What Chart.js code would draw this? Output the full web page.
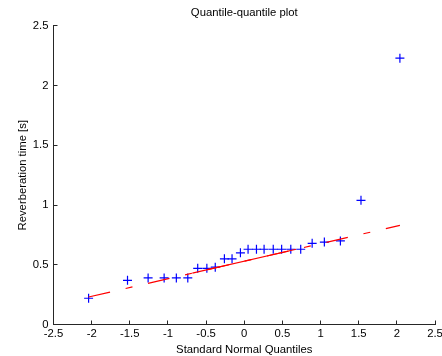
<!DOCTYPE html>
<html><head><meta charset="utf-8">
<script src="https://cdn.jsdelivr.net/npm/chart.js@4/dist/chart.umd.min.js"></script>
<style>html,body{margin:0;padding:0;background:#fff}</style>
</head><body>
<canvas id="c" width="442" height="356"></canvas>
<script>
// Standard normal quantiles (x) and sample values (y)
const quantiles = [-2.04,-1.53,-1.26,-1.05,-0.89,-0.74,-0.61,-0.49,-0.38,-0.26,-0.16,-0.05,0.05,0.16,0.26,0.38,0.49,0.61,0.74,0.89,1.05,1.26,1.53,2.04];
const reverbTimes = [0.22,0.37,0.39,0.39,0.39,0.39,0.47,0.47,0.48,0.55,0.55,0.60,0.63,0.63,0.63,0.63,0.63,0.63,0.63,0.68,0.69,0.70,1.04,2.23];
// Reference line: solid between quartiles, dash-dot extension to data range
const quartileLineX = [-0.68, 0.68];
const quartileLineY = [0.43, 0.63];
const extLineX = [-2.04, 2.04];
const extLineY = [0.23, 0.83];
// Tick values
const xTicks = [-2.5,-2,-1.5,-1,-0.5,0,0.5,1,1.5,2,2.5];
const yTicks = [0,0.5,1,1.5,2,2.5];

const FONT = "'Liberation Sans', Arial, sans-serif";
const FS = 11.3;

const inwardTicks = {
  id: 'inwardTicks',
  afterDraw(chart) {
    const {ctx, chartArea: {left, bottom}, scales: {x, y}} = chart;
    const al = p => Math.round(p - 0.5) + 0.5;
    ctx.save();
    ctx.strokeStyle = '#262626';
    ctx.lineWidth = 1;
    ctx.beginPath();
    x.ticks.forEach(t => { const px = al(x.getPixelForValue(t.value)); ctx.moveTo(px, al(bottom)); ctx.lineTo(px, al(bottom) - 4); });
    y.ticks.forEach(t => { const py = al(y.getPixelForValue(t.value)); ctx.moveTo(al(left), py); ctx.lineTo(al(left) + 4, py); });
    ctx.stroke();
    ctx.restore();
  }
};

new Chart(document.getElementById('c'), {
  type: 'scatter',
  data: {
    datasets: [
      {
        type: 'line',
        data: quartileLineX.map((v, i) => ({x: v, y: quartileLineY[i]})),
        borderColor: '#ff0000', borderWidth: 1.2, pointRadius: 0, fill: false, order: 0
      },
      {
        type: 'line',
        data: extLineX.map((v, i) => ({x: v, y: extLineY[i]})),
        borderColor: '#ff0000', borderWidth: 1.2, pointRadius: 0, fill: false,
        borderDash: [22, 16, 7, 16], order: 0
      },
      {
        type: 'scatter',
        data: quantiles.map((v, i) => ({x: v, y: reverbTimes[i]})),
        pointStyle: 'cross', pointRadius: 4.5, borderColor: '#0000ff', backgroundColor: '#0000ff',
        pointBorderWidth: 1.2, borderWidth: 1.2, order: 1
      }
    ]
  },
  options: {
    responsive: false,
    animation: false,
    layout: {padding: {left: 0, right: 7, top: 0, bottom: 0}},
    plugins: {
      legend: {display: false},
      tooltip: {enabled: false},
      title: {
        display: true, fullSize: false, text: 'Quantile-quantile plot', color: '#000',
        font: {family: FONT, size: FS, weight: 'normal'},
        padding: {top: 6, bottom: 6.4}
      }
    },
    scales: {
      x: {
        type: 'linear', min: -2.5, max: 2.5,
        afterBuildTicks: s => { s.ticks = xTicks.map(v => ({value: v})); },
        afterFit: s => { s.height = 31.5; s.paddingLeft = 0; s.paddingRight = 0; },
        grid: {display: false, drawTicks: false},
        border: {display: true, color: '#262626', width: 1},
        ticks: {color: '#000', padding: 3, font: {family: FONT, size: FS}, maxRotation: 0, autoSkip: false,
          callback: v => String(v)},
        title: {display: true, text: 'Standard Normal Quantiles', color: '#000',
          font: {family: FONT, size: FS, lineHeight: 1}, padding: {top: 0, bottom: 0}}
      },
      y: {
        type: 'linear', min: 0, max: 2.5,
        afterBuildTicks: s => { s.ticks = yTicks.map(v => ({value: v})); },
        afterFit: s => { s.width = 53.5; s.paddingTop = 0; s.paddingBottom = 0; },
        grid: {display: false, drawTicks: false},
        border: {display: true, color: '#262626', width: 1},
        ticks: {color: '#000', padding: 5, font: {family: FONT, size: FS}, autoSkip: false,
          callback: v => String(v)},
        title: {display: true, text: 'Reverberation time [s]', color: '#000',
          font: {family: FONT, size: FS}, padding: {top: 16, bottom: 0}}
      }
    }
  },
  plugins: [inwardTicks]
});
</script>
</body></html>
